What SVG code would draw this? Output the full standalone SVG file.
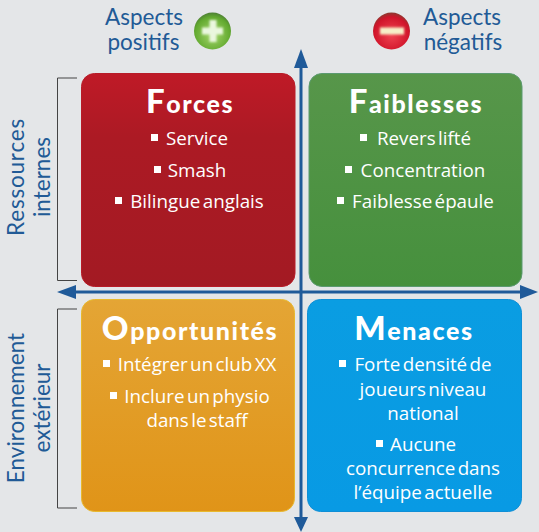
<svg xmlns="http://www.w3.org/2000/svg" width="539" height="532" viewBox="0 0 539 532">
<style>
.h{font-family:Lato,"Liberation Sans",sans-serif;font-size:22.500px;fill:#215a96;text-anchor:middle}
.t{font-family:Lato,"Liberation Sans",sans-serif;font-weight:900;font-size:25px;fill:#fff;text-anchor:middle;letter-spacing:1.600px}
.t tspan{font-size:33px}
.b{font-family:"Open Sans","Liberation Sans",sans-serif;font-size:18.800px;fill:#fff;text-anchor:middle;word-spacing:-2.500px}
.box{stroke-width:1}
.br{fill:none;stroke:#444;stroke-width:1}
.ax{stroke:#1f5a99;stroke-width:3;fill:none}
.ah{fill:#1f5a99}
.bu{fill:#fff}
</style>
<defs>
<linearGradient id="r" x1="0" y1="0" x2="0" y2="1"><stop offset="0" stop-color="#bf1a27"/><stop offset=".3" stop-color="#ac1a24"/><stop offset="1" stop-color="#a31a23"/></linearGradient>
<linearGradient id="g" x1="0" y1="0" x2="0" y2="1"><stop offset="0" stop-color="#57964a"/><stop offset="1" stop-color="#46903d"/></linearGradient>
<linearGradient id="o" x1="0" y1="0" x2="0" y2="1"><stop offset="0" stop-color="#e4a535"/><stop offset="1" stop-color="#e09418"/></linearGradient>
<linearGradient id="c" x1="0" y1="0" x2="0" y2="1"><stop offset="0" stop-color="#0a9de2"/><stop offset="1" stop-color="#089ae4"/></linearGradient>
<radialGradient id="pg" cx=".5" cy=".6" r=".6"><stop offset="0" stop-color="#a6d86c"/><stop offset=".8" stop-color="#62a92f"/><stop offset="1" stop-color="#4d7f35"/></radialGradient>
<radialGradient id="mg" cx=".5" cy=".6" r=".6"><stop offset="0" stop-color="#f04452"/><stop offset=".8" stop-color="#d0142a"/><stop offset="1" stop-color="#8a3a30"/></radialGradient>
<filter id="s" x="-20%" y="-50%" width="140%" height="200%"><feGaussianBlur stdDeviation="1.300"/></filter>
</defs>
<rect width="539" height="532" fill="#e4e6e8"/>
<g id="connectors">
<path class="br" d="M77 78H57.500V280.500H77"/>
<path class="br" d="M77 309H57.500V508H77"/>
<path class="ax" d="M301 68V518"/>
<path class="ax" d="M75 292H522"/>
<path class="ah" d="M301 49L308 68H294Z"/>
<path class="ah" d="M301 532L294 517H308Z"/>
<path class="ah" d="M57 292L76 285V299Z"/>
<path class="ah" d="M538 292L520 285V299Z"/>
</g>
<g id="header-positive">
<text class="h" x="144" y="25">Aspects</text>
<text class="h" x="143.500" y="50">positifs</text>
<circle cx="212.500" cy="31" r="18.500" fill="url(#pg)"/>
<g filter="url(#s)" fill="#eaf7de"><rect x="209.500" y="20" width="7" height="22"/><rect x="202" y="27.500" width="21" height="7"/></g>
</g>
<g id="header-negative">
<text class="h" x="462" y="25">Aspects</text>
<text class="h" x="463" y="50">négatifs</text>
<circle cx="391.500" cy="31" r="18.500" fill="url(#mg)"/>
<rect x="380" y="27.500" width="24" height="7" fill="#f6efc8" filter="url(#s)"/>
</g>
<g id="label-ressources">
<text class="h" style="letter-spacing:.8px" transform="translate(24 177) rotate(-90)">Ressources</text>
<text class="h" transform="translate(50 177) rotate(-90)">internes</text>
</g>
<g id="label-environnement">
<text class="h" transform="translate(24 408) rotate(-90)">Environnement</text>
<text class="h" transform="translate(50 408) rotate(-90)">extérieur</text>
</g>
<g id="forces">
<rect class="box" x="81.500" y="73.500" width="213.500" height="213" rx="13" fill="url(#r)" stroke="#b81c28"/>
<text class="t" x="190" y="113"><tspan>F</tspan>orces</text>
<rect class="bu" x="151" y="134" width="7" height="7"/><text class="b" x="197" y="145">Service</text>
<rect class="bu" x="154" y="166" width="7" height="7"/><text class="b" x="197" y="177">Smash</text>
<rect class="bu" x="115" y="197" width="7" height="7"/><text class="b" x="197" y="208">Bilingue anglais</text>
</g>
<g id="faiblesses">
<rect class="box" x="309" y="73.500" width="213" height="213" rx="13" fill="url(#g)" stroke="#5b9a70"/>
<text class="t" x="416" y="113"><tspan>F</tspan>aiblesses</text>
<rect class="bu" x="360" y="134" width="7" height="7"/><text class="b" x="424" y="145">Revers lifté</text>
<rect class="bu" x="345" y="166" width="7" height="7"/><text class="b" x="423" y="177">Concentration</text>
<rect class="bu" x="337" y="197" width="7" height="7"/><text class="b" x="423" y="208">Faiblesse épaule</text>
</g>
<g id="opportunites">
<rect class="box" x="81.500" y="299.500" width="213" height="212" rx="13" fill="url(#o)" stroke="#e8b92e"/>
<text class="t" x="190" y="340"><tspan>O</tspan>pportunités</text>
<rect class="bu" x="103" y="360" width="7" height="7"/><text class="b" x="197" y="371">Intégrer un club XX</text>
<rect class="bu" x="110" y="392" width="7" height="7"/><text class="b" x="197" y="403">Inclure un physio</text>
<text class="b" x="197" y="427">dans le staff</text>
</g>
<g id="menaces">
<rect class="box" x="307.500" y="299.500" width="214" height="212" rx="13" fill="url(#c)" stroke="#0f8fd6"/>
<text class="t" x="414" y="340"><tspan>M</tspan>enaces</text>
<rect class="bu" x="339" y="360" width="7" height="7"/><text class="b" x="423" y="371">Forte densité de</text>
<text class="b" x="423" y="396">joueurs niveau</text>
<text class="b" x="423" y="420">national</text>
<rect class="bu" x="376" y="440" width="7" height="7"/><text class="b" x="423" y="451">Aucune</text>
<text class="b" x="423" y="475">concurrence dans</text>
<text class="b" x="423" y="499">l’équipe actuelle</text>
</g>
</svg>
